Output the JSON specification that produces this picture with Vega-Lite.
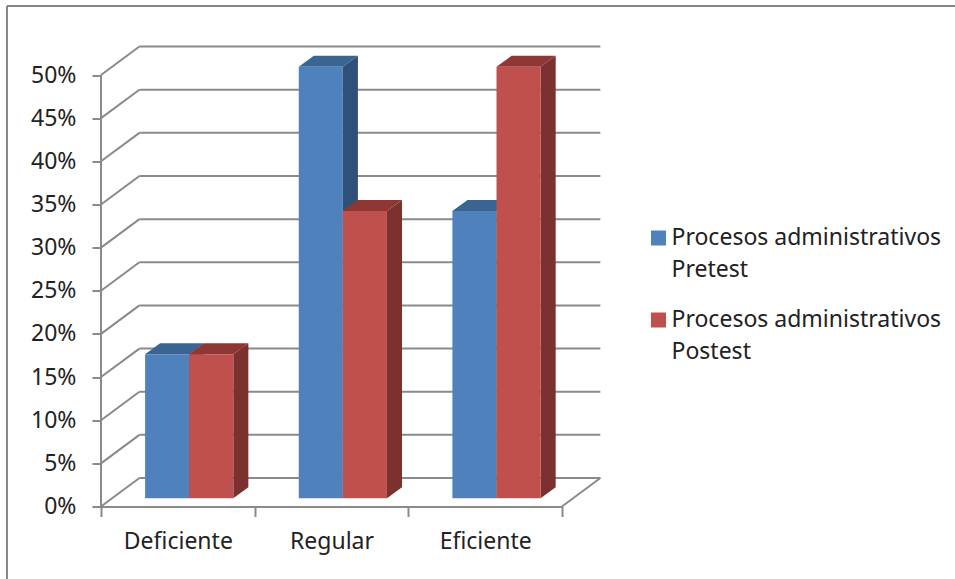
{
  "$schema": "https://vega.github.io/schema/vega-lite/v6.json",
  "width": 500,
  "height": 461,
  "autosize": "none",
  "padding": {"left": 101, "top": 45.5, "right": 354, "bottom": 72.5},
  "background": "white",
  "view": {"stroke": null},
  "config": {"font": "Noto Sans"},
  "datasets": {
    "barras": [
      {"categoria": "Deficiente", "serie": "Procesos administrativos Pretest", "valor": 16.7},
      {"categoria": "Deficiente", "serie": "Procesos administrativos Postest", "valor": 16.7},
      {"categoria": "Regular", "serie": "Procesos administrativos Pretest", "valor": 50},
      {"categoria": "Regular", "serie": "Procesos administrativos Postest", "valor": 33.3},
      {"categoria": "Eficiente", "serie": "Procesos administrativos Pretest", "valor": 33.3},
      {"categoria": "Eficiente", "serie": "Procesos administrativos Postest", "valor": 50}
    ],
    "marcas": [
      {"nivel": 0}, {"nivel": 5}, {"nivel": 10}, {"nivel": 15}, {"nivel": 20}, {"nivel": 25},
      {"nivel": 30}, {"nivel": 35}, {"nivel": 40}, {"nivel": 45}, {"nivel": 50}
    ]
  },
  "layer": [
    {
      "data": {"name": "barras"},
      "mark": {"type": "rule", "opacity": 0},
      "encoding": {
        "x": {
          "field": "categoria",
          "type": "nominal",
          "title": null,
          "scale": {"type": "band", "domain": ["Deficiente", "Regular", "Eficiente"], "range": [0, 461], "paddingInner": 0, "paddingOuter": 0},
          "axis": {
            "orient": "bottom", "tickBand": "extent", "labelAngle": 0, "grid": false,
            "domainColor": "#8a8a8a", "domainWidth": 2, "tickColor": "#8a8a8a", "tickWidth": 2, "tickSize": 10,
            "labelFontSize": 23, "labelColor": "#222222", "labelPadding": 14, "labelFont": "Noto Sans"
          }
        }
      }
    },
    {
      "layer": [
        {
          "data": {"values": [{}]},
          "mark": {"type": "rule", "color": "#868686", "strokeWidth": 2},
          "encoding": {
            "x": {"datum": -0.612, "type": "quantitative", "scale": {"domain": [0, 3.254], "nice": false, "zero": false}, "axis": null},
            "y": {"datum": 58, "type": "quantitative", "scale": {"domain": [0, 53.42], "nice": false, "zero": false}},
            "y2": {"datum": -8.4}
          }
        },
        {
          "data": {"values": [{}]},
          "mark": {"type": "rule", "color": "#868686", "strokeWidth": 2},
          "encoding": {
            "x": {"datum": -0.612, "type": "quantitative"},
            "x2": {"datum": 5.6},
            "y": {"datum": 58, "type": "quantitative"}
          }
        },
        {
          "data": {"name": "marcas"},
          "transform": [
            {"calculate": "datum.nivel + 3.3", "as": "fondo"}
          ],
          "layer": [
            {
              "mark": {"type": "rule", "color": "#8a8a8a", "strokeWidth": 2},
              "encoding": {
                "x": {"datum": 0.25, "type": "quantitative"},
                "x2": {"datum": 3.25},
                "y": {"field": "fondo", "type": "quantitative"}
              }
            },
            {
              "mark": {"type": "rule", "color": "#8a8a8a", "strokeWidth": 2},
              "encoding": {
                "x": {"datum": 0, "type": "quantitative"},
                "x2": {"datum": 0.25},
                "y": {"field": "nivel", "type": "quantitative"},
                "y2": {"field": "fondo"}
              }
            },
            {
              "transform": [{"filter": "datum.nivel === 0"}],
              "mark": {"type": "rule", "color": "#8a8a8a", "strokeWidth": 2},
              "encoding": {
                "x": {"datum": 3, "type": "quantitative"},
                "x2": {"datum": 3.25},
                "y": {"field": "nivel", "type": "quantitative"},
                "y2": {"field": "fondo"}
              }
            },
            {
              "transform": [{"filter": "datum.nivel === 0"}],
              "mark": {"type": "rule", "color": "#8a8a8a", "strokeWidth": 2},
              "encoding": {
                "x": {"datum": 0, "type": "quantitative"},
                "y": {"datum": 0, "type": "quantitative"},
                "y2": {"datum": 50}
              }
            },
            {
              "mark": {"type": "rule", "opacity": 0},
              "encoding": {
                "y": {
                  "field": "nivel",
                  "type": "quantitative",
                  "title": null,
                  "axis": {
                    "orient": "left", "values": [0, 5, 10, 15, 20, 25, 30, 35, 40, 45, 50],
                    "labelExpr": "datum.value + '%'", "grid": false, "domain": false,
                    "tickColor": "#8a8a8a", "tickWidth": 2, "tickSize": 9,
                    "labelFontSize": 23, "labelColor": "#222222", "labelPadding": 16, "labelFont": "Noto Sans"
                  }
                }
              }
            }
          ]
        },
        {
          "data": {"name": "barras"},
          "transform": [
            {"calculate": "indexof(['Deficiente','Regular','Eficiente'], datum.categoria)", "as": "grupo"},
            {"calculate": "datum.serie === 'Procesos administrativos Pretest' ? 0 : 1", "as": "orden"},
            {"calculate": "datum.grupo + 0.287 + datum.orden * 0.287", "as": "izq"},
            {"calculate": "datum.izq + 0.287", "as": "der"},
            {"calculate": "datum.valor + 0.95", "as": "techo"}
          ],
          "layer": [
            {
              "transform": [
                {"filter": "datum.orden === 0"},
                {"calculate": "[0, 1]", "as": "t"}, {"flatten": ["t"]},
                {"calculate": "datum.der + datum.t * 0.098", "as": "px"},
                {"calculate": "datum.techo + datum.t * 1.27", "as": "alto"},
                {"calculate": "0.95 + datum.t * 1.27", "as": "bajo"}
              ],
              "mark": {"type": "area", "orient": "vertical", "fill": "#2F5078"},
              "encoding": {
                "detail": {"field": "categoria"},
                "x": {"field": "px", "type": "quantitative"},
                "y": {"field": "alto", "type": "quantitative"},
                "y2": {"field": "bajo"}
              }
            },
            {
              "transform": [
                {"filter": "datum.orden === 0"},
                {"calculate": "[0, 1, 2, 3]", "as": "t"}, {"flatten": ["t"]},
                {"calculate": "datum.t === 0 ? datum.izq : datum.t === 1 ? datum.izq + 0.098 : datum.t === 2 ? datum.der : datum.der + 0.098", "as": "px"},
                {"calculate": "datum.t === 0 ? datum.techo : datum.techo + 1.27", "as": "alto"},
                {"calculate": "datum.t === 3 ? datum.techo + 1.27 : datum.techo", "as": "bajo"}
              ],
              "mark": {"type": "area", "orient": "vertical", "fill": "#3C6491"},
              "encoding": {
                "detail": {"field": "categoria"},
                "x": {"field": "px", "type": "quantitative"},
                "y": {"field": "alto", "type": "quantitative"},
                "y2": {"field": "bajo"}
              }
            },
            {
              "transform": [
                {"filter": "datum.orden === 0"},
                {"calculate": "0.95", "as": "base"}
              ],
              "mark": {"type": "rect"},
              "encoding": {
                "x": {"field": "izq", "type": "quantitative"},
                "x2": {"field": "der"},
                "y": {"field": "techo", "type": "quantitative"},
                "y2": {"field": "base"},
                "color": {
                  "field": "serie",
                  "type": "nominal",
                  "scale": {"domain": ["Procesos administrativos Pretest", "Procesos administrativos Postest"], "range": ["#4F81BD", "#C0504D"]},
                  "legend": {
                    "orient": "none", "legendX": 546, "legendY": 181, "title": null,
                    "symbolType": "square", "symbolSize": 225, "symbolStrokeWidth": 0,
                    "labelFontSize": 23, "labelColor": "#222222", "labelFont": "Noto Sans", "labelOffset": 1.5,
                    "labelLimit": 340, "rowPadding": 26, "labelBaseline": "middle",
                    "labelExpr": "[slice(datum.label, 0, 24), slice(datum.label, 25)]",
                    "encode": {"labels": {"update": {"lineHeight": {"value": 32}}}}
                  }
                }
              }
            },
            {
              "transform": [
                {"filter": "datum.orden === 1"},
                {"calculate": "[0, 1]", "as": "t"}, {"flatten": ["t"]},
                {"calculate": "datum.der + datum.t * 0.098", "as": "px"},
                {"calculate": "datum.techo + datum.t * 1.27", "as": "alto"},
                {"calculate": "0.95 + datum.t * 1.27", "as": "bajo"}
              ],
              "mark": {"type": "area", "orient": "vertical", "fill": "#7D312F"},
              "encoding": {
                "detail": {"field": "categoria"},
                "x": {"field": "px", "type": "quantitative"},
                "y": {"field": "alto", "type": "quantitative"},
                "y2": {"field": "bajo"}
              }
            },
            {
              "transform": [
                {"filter": "datum.orden === 1"},
                {"calculate": "[0, 1, 2, 3]", "as": "t"}, {"flatten": ["t"]},
                {"calculate": "datum.t === 0 ? datum.izq : datum.t === 1 ? datum.izq + 0.098 : datum.t === 2 ? datum.der : datum.der + 0.098", "as": "px"},
                {"calculate": "datum.t === 0 ? datum.techo : datum.techo + 1.27", "as": "alto"},
                {"calculate": "datum.t === 3 ? datum.techo + 1.27 : datum.techo", "as": "bajo"}
              ],
              "mark": {"type": "area", "orient": "vertical", "fill": "#8E3835"},
              "encoding": {
                "detail": {"field": "categoria"},
                "x": {"field": "px", "type": "quantitative"},
                "y": {"field": "alto", "type": "quantitative"},
                "y2": {"field": "bajo"}
              }
            },
            {
              "transform": [
                {"filter": "datum.orden === 1"},
                {"calculate": "0.95", "as": "base"}
              ],
              "mark": {"type": "rect"},
              "encoding": {
                "x": {"field": "izq", "type": "quantitative"},
                "x2": {"field": "der"},
                "y": {"field": "techo", "type": "quantitative"},
                "y2": {"field": "base"},
                "color": {"field": "serie", "type": "nominal"}
              }
            }
          ]
        }
      ]
    }
  ],
  "resolve": {"scale": {"x": "independent"}}
}
